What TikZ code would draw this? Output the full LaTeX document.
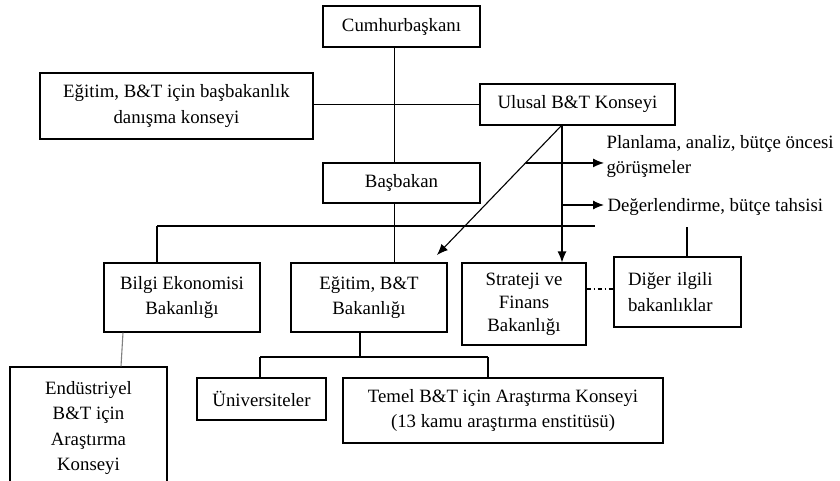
\documentclass[tikz,border=0pt]{standalone}
\usepackage{fontspec}
\setmainfont{Liberation Serif}
\usetikzlibrary{arrows.meta,calc,positioning}

\begin{document}
\begin{tikzpicture}[x=1pt, y=-1pt, line width=1.1pt,
	kutu/.style={draw,fill=white,align=center,inner sep=0pt,
		font=\fontsize{18.8}{25.5}\selectfont},
	yazi/.style={inner sep=0pt,align=left,anchor=west,
		font=\fontsize{18.8}{25}\selectfont},
	ok/.style={-{Latex[length=11pt,width=9pt]}}]
	\useasboundingbox (0,0) rectangle (840,481);
	\clip (0,0) rectangle (840,481);
	\node[kutu,minimum width=157,minimum height=41] (cb) at (401.5,26.5) {Cumhurbaşkanı};
	\node[kutu,minimum width=273,minimum height=66] (dk) at (176.5,106) {Eğitim, B\&T için başbakanlık\\danışma konseyi};
	\node[kutu,minimum width=195,minimum height=41] (ul) at (577.5,104.5) {Ulusal B\&T Konseyi};
	\node[kutu,minimum width=157,minimum height=40] (bb) at (401.5,183) {Başbakan};
	\node[kutu,minimum width=156,minimum height=69] (be) at (182,297.5) {Bilgi Ekonomisi\\Bakanlığı};
	\node[kutu,minimum width=156,minimum height=69] (eb) at (369,297.5) {Eğitim, B\&T\\Bakanlığı};
	\node[kutu,minimum width=124,minimum height=82,
		font=\fontsize{18.8}{23}\selectfont] (sf) at (524,304) {Strateji ve\\Finans\\Bakanlığı};
	\node[kutu,align=left,inner xsep=14pt,text width=99pt,minimum height=70] (di) at (677.5,292) {Diğer ilgili\\bakanlıklar};
	\node[kutu,minimum width=129,minimum height=42] (un) at (261.5,399) {Üniversiteler};
	\node[kutu,minimum width=320,minimum height=65] (tm) at (503,410.5) {Temel B\&T için Araştırma Konseyi\\(13 kamu araştırma enstitüsü)};
	\node[kutu,minimum width=157,minimum height=122] (en) at (88.5,428) {Endüstriyel\\B\&T için\\Araştırma\\Konseyi};
	\node[yazi] (pl) at (606,157) {Planlama, analiz, bütçe öncesi\\görüşmeler};
	\node[yazi] (de) at (607,207) {Değerlendirme, bütçe tahsisi};
	% ana hat
	\coordinate (s1) at (394.5,0);
	\draw (cb.south -| s1) -- (bb.north -| s1);
	\draw (dk.east |- ul.west) -- (ul.west);
	\draw (bb.south -| s1) -- (eb.north -| s1);
	\coordinate (b1) at (157,226);
	\coordinate (b2) at (595,226);
	\draw (b1) -- (b2);
	\draw (b1) -- (be.north -| b1);
	\coordinate (d1) at (687,227);
	\draw (d1) -- (di.north -| d1);
	% konsey oklari
	\coordinate (u1) at (562,125);
	\coordinate (u2) at (437,255);
	\draw[ok] (u1) -- (u2);
	\draw[ok] (u1) -- (sf.north -| u1);
	\coordinate (p1) at ($(u1)!0.292!(u2)$);
	\draw[ok,shorten >=2pt] (p1) -- (p1 -| pl.west);
	\coordinate (e1) at (562,205);
	\draw[ok,shorten >=3pt] (e1) -- (e1 -| de.west);
	\coordinate (dd) at (600,289);
	\draw[dash pattern=on 4pt off 3pt on 1pt off 3pt] (sf.east |- dd) -- (di.west |- dd);
	% alt kisim
	\coordinate (l1) at (360,357);
	\coordinate (l2) at (260,357);
	\coordinate (l3) at (488,357);
	\draw (eb.south -| l1) -- (l1);
	\draw (l2) -- (l3);
	\draw (l2) -- (un.north -| l2);
	\draw (l3) -- (tm.north -| l3);
	\coordinate (k1) at (123,0);
	\coordinate (k2) at (121,0);
	\draw[gray] (be.south -| k1) -- (en.north -| k2);
\end{tikzpicture}
\end{document}
